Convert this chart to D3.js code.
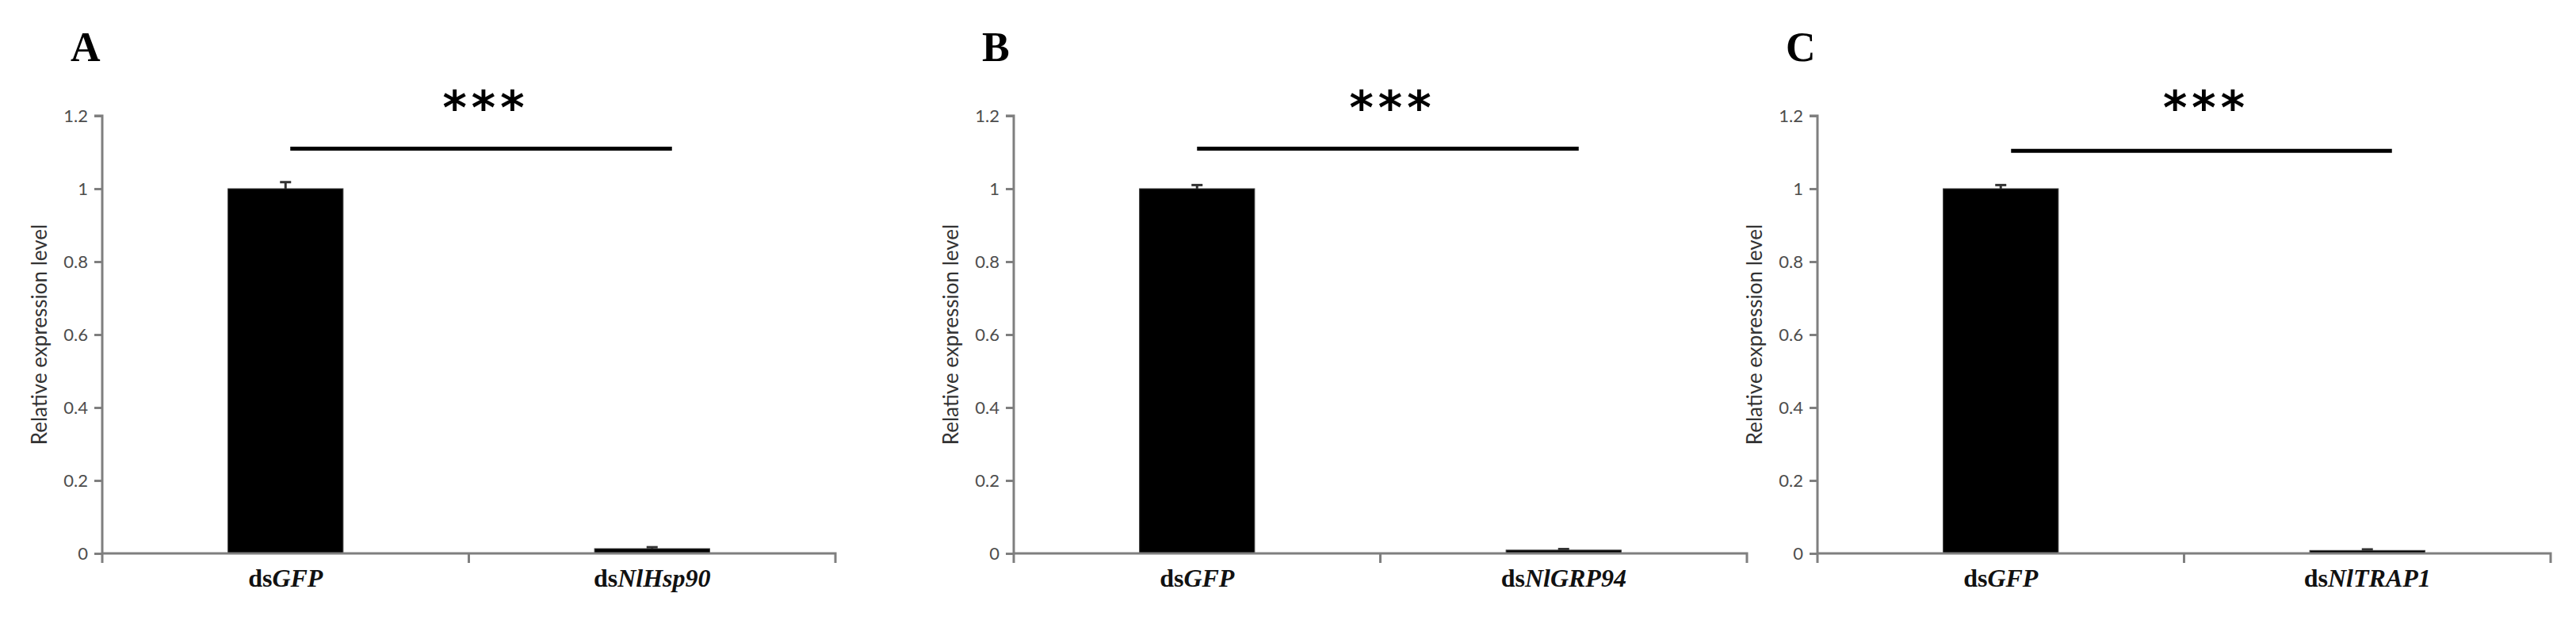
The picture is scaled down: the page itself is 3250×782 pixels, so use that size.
<!DOCTYPE html>
<html>
<head>
<meta charset="utf-8">
<script src="https://cdn.jsdelivr.net/npm/d3@7"></script>
<style>
  html, body { margin: 0; padding: 0; background: #fff; }
  svg { display: block; }
</style>
</head>
<body>
<svg id="chart" width="3250" height="782"></svg>
<script>
// ---------------- data ----------------
const panelLabels = ["A", "B", "C"];
const controlName = "GFP";
const geneNames = ["NlHsp90", "NlGRP94", "NlTRAP1"];
const controlValues = [1.0, 1.0, 1.0];
const controlErrors = [0.018, 0.010, 0.010];
const knockdownValues = [0.013, 0.009, 0.008];
const knockdownErrors = [0.004, 0.003, 0.003];
const significance = ["***", "***", "***"];
const sigLineLevels = [1.11, 1.11, 1.104];
const yTicks = [0, 0.2, 0.4, 0.6, 0.8, 1, 1.2];
const yTickLabels = ["0", "0.2", "0.4", "0.6", "0.8", "1", "1.2"];
const yTitle = "Relative expression level";

// ---------------- layout ----------------
const svg = d3.select("#chart");
const panelLeft = [129, 1279, 2293];
const plotW = 925;
const plotTop = 146, plotBottom = 698;
const sigOffsets = [[6, 25], [0, 19], [13, 31]];
const axisColor = "#7f7f7f";

const y = d3.scaleLinear().domain([0, 1.2]).range([plotBottom, plotTop]);

panelLabels.forEach((lab, i) => {
  const g = svg.append("g").attr("transform", `translate(${panelLeft[i]},0)`);
  const cats = ["ds" + controlName, "ds" + geneNames[i]];
  const italicParts = [controlName, geneNames[i]];
  const vals = [controlValues[i], knockdownValues[i]];
  const errs = [controlErrors[i], knockdownErrors[i]];

  const x = d3.scaleBand().domain(cats).range([0, plotW])
    .paddingInner(0.686).paddingOuter(0.343);

  // panel letter
  g.append("text")
    .attr("x", -40).attr("y", 77)
    .attr("font-family", "Liberation Serif, Times New Roman, serif")
    .attr("font-weight", "bold")
    .attr("font-size", 52)
    .attr("fill", "#000")
    .text(lab);

  // bars
  g.selectAll("rect.bar").data(cats).enter().append("rect")
    .attr("class", "bar")
    .attr("x", d => x(d))
    .attr("width", x.bandwidth())
    .attr("y", (d, k) => y(vals[k]))
    .attr("height", (d, k) => y(0) - y(vals[k]))
    .attr("fill", "#000")
    .attr("stroke", "#3a3a3a")
    .attr("stroke-width", 1);

  // error bars
  cats.forEach((c, k) => {
    const cx = x(c) + x.bandwidth() / 2;
    g.append("line")
      .attr("x1", cx).attr("x2", cx)
      .attr("y1", y(vals[k])).attr("y2", y(vals[k] + errs[k]))
      .attr("stroke", "#333").attr("stroke-width", 3);
    g.append("line")
      .attr("x1", cx - 7).attr("x2", cx + 7)
      .attr("y1", y(vals[k] + errs[k])).attr("y2", y(vals[k] + errs[k]))
      .attr("stroke", "#333").attr("stroke-width", 3);
  });

  // y axis
  const yAxis = d3.axisLeft(y).tickValues(yTicks)
    .tickFormat((d, k) => yTickLabels[k])
    .tickSize(10).tickPadding(8);
  const ya = g.append("g").call(yAxis);
  ya.select(".domain").attr("stroke", axisColor).attr("stroke-width", 3)
    .attr("d", `M-10,${plotTop}H0V${plotBottom + 12}`);
  ya.selectAll(".tick line").attr("stroke", axisColor).attr("stroke-width", 3);
  ya.selectAll(".tick text")
    .attr("font-family", "Lato, Open Sans, sans-serif")
    .attr("font-size", 22)
    .attr("fill", "#4d4d4d");

  // x axis (category boundary ticks)
  const xa = g.append("g").attr("transform", `translate(0,${plotBottom})`);
  xa.append("path")
    .attr("d", `M0,0H${plotW}V12`)
    .attr("fill", "none").attr("stroke", axisColor).attr("stroke-width", 3);
  const boundaries = [x.step()];
  xa.selectAll("line.bt").data(boundaries).enter().append("line")
    .attr("class", "bt")
    .attr("x1", d => d).attr("x2", d => d)
    .attr("y1", 0).attr("y2", 12)
    .attr("stroke", axisColor).attr("stroke-width", 3);

  // category labels
  cats.forEach((c, k) => {
    const t = g.append("text")
      .attr("x", x(c) + x.bandwidth() / 2)
      .attr("y", plotBottom + 42)
      .attr("text-anchor", "middle")
      .attr("font-family", "Liberation Serif, Times New Roman, serif")
      .attr("font-weight", "bold")
      .attr("font-size", 32)
      .attr("fill", "#111");
    t.append("tspan").text("ds");
    t.append("tspan").attr("font-style", "italic").text(italicParts[k]);
  });

  // y title
  g.append("text")
    .attr("transform", `translate(-80,${(plotTop + plotBottom) / 2}) rotate(-90)`)
    .attr("text-anchor", "middle")
    .attr("dominant-baseline", "central")
    .attr("font-family", "Lato, Open Sans, sans-serif")
    .attr("font-size", 26)
    .attr("fill", "#333")
    .text(yTitle);

  // significance line
  const c0 = x(cats[0]) + x.bandwidth() / 2 + sigOffsets[i][0];
  const c1 = x(cats[1]) + x.bandwidth() / 2 + sigOffsets[i][1];
  g.append("line")
    .attr("x1", c0).attr("x2", c1)
    .attr("y1", y(sigLineLevels[i])).attr("y2", y(sigLineLevels[i]))
    .attr("stroke", "#000").attr("stroke-width", 5);
  g.append("text")
    .attr("x", (c0 + c1) / 2 + 6)
    .attr("y", 156)
    .attr("text-anchor", "middle")
    .attr("font-family", "DejaVu Sans, sans-serif")
    .attr("font-weight", "bold")
    .attr("font-size", 58)
    .attr("letter-spacing", 6)
    .attr("fill", "#000")
    .text(significance[i]);
});
</script>
</body>
</html>
